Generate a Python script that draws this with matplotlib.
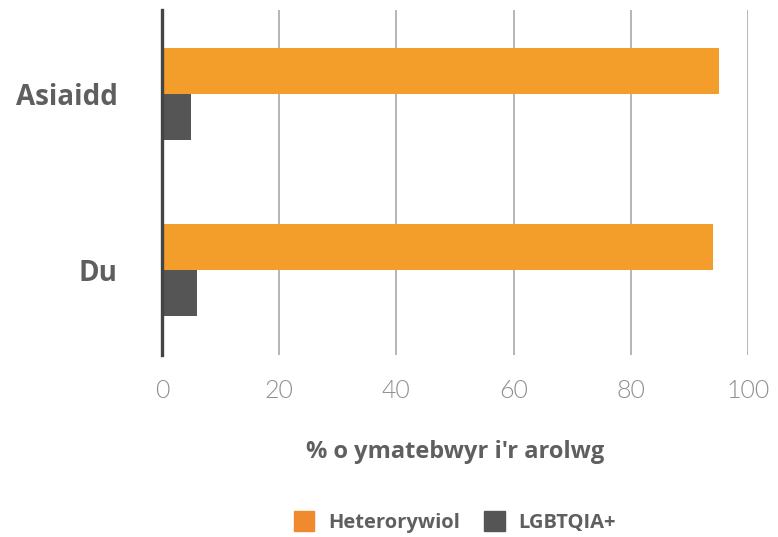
import matplotlib
matplotlib.use("Agg")
import matplotlib.pyplot as plt
import numpy as np
from matplotlib.patches import Patch

categories = ["Du", "Asiaidd"]
hetero = [94, 95]
lgbt = [6, 5]
xticks = [0, 20, 40, 60, 80, 100]
series_labels = ["Heterorywiol", "LGBTQIA+"]

ORANGE = "#F39D2B"
DARK = "#555555"
TEXT = "#5f5f5f"
TICK = "#8f8f8f"

fig = plt.figure(figsize=(7.78, 5.37), dpi=100)
ax = fig.add_axes([0.2082, 0.339, 0.7532, 0.642])

y = np.arange(len(categories))
h = 0.26
ax.barh(y + h / 2, hetero, height=h, color=ORANGE, zorder=3)
ax.barh(y - h / 2, lgbt, height=h, color=DARK, zorder=3)

ax.set_xlim(0, 100)
ax.set_ylim(-0.483, 1.477)
ax.set_xticks(xticks)
ax.set_xticklabels([str(t) for t in xticks], family="Lato", fontweight=300,
                   fontsize=18, color=TICK)
ax.set_yticks(y)
ax.set_yticklabels(categories, family="Open Sans", fontweight="bold",
                   fontsize=20, color=TEXT)
ax.tick_params(axis="x", length=0, pad=17)
ax.tick_params(axis="y", length=0, pad=32)

ax.grid(axis="x", color="#b0b0b0", lw=1.3, zorder=0)
for s in ["top", "right", "bottom"]:
    ax.spines[s].set_visible(False)
ax.spines["left"].set_color("#444444")
ax.spines["left"].set_linewidth(2.4)
ax.spines["left"].set_zorder(4)

ax.set_xlabel("% o ymatebwyr i'r arolwg", family="Open Sans", fontweight="bold",
              fontsize=17, color=TEXT, labelpad=27)

handles = [Patch(color="#F08A2E"), Patch(color=DARK)]
fig.legend(handles, series_labels, loc="center", bbox_to_anchor=(0.585, 0.028),
           ncol=2, frameon=False, handlelength=1.0, handleheight=1.1,
           handletextpad=0.7, columnspacing=1.2,
           prop={"family": "Open Sans", "weight": "bold", "size": 14.5})
for txt in fig.legends[0].get_texts():
    txt.set_color(TEXT)

fig.savefig("out.png", dpi=100)
